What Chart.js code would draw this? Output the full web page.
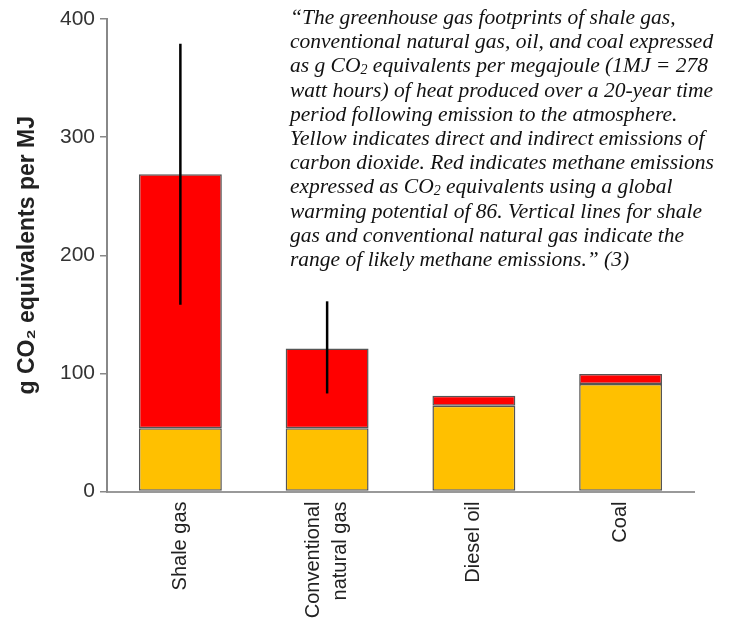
<!DOCTYPE html>
<html>
<head>
<meta charset="utf-8">
<script src="https://cdn.jsdelivr.net/npm/chart.js@4.4.1/dist/chart.umd.min.js"></script>
<style>
  body { margin: 0; background: #fff; }
  #wrap { position: relative; width: 730px; height: 626px; }
  #note {
    position: absolute; left: 290px; top: 5px;
    font-family: "Liberation Serif", "Times New Roman", serif;
    font-style: italic; font-size: 21.5px; line-height: 24.2px; color: #111;
    white-space: nowrap;
  }
  #note sub { font-size: 0.65em; vertical-align: -0.15em; line-height: 0; }
</style>
</head>
<body>
<div id="wrap">
  <canvas id="barChart"></canvas>
  <div id="note">“The greenhouse gas footprints of shale gas,<br>conventional natural gas, oil, and coal expressed<br>as g CO<sub>2</sub> equivalents per megajoule (1MJ = 278<br>watt hours) of heat produced over a 20-year time<br>period following emission to the atmosphere.<br>Yellow indicates direct and indirect emissions of<br>carbon dioxide. Red indicates methane emissions<br>expressed as CO<sub>2</sub> equivalents using a global<br>warming potential of 86. Vertical lines for shale<br>gas and conventional natural gas indicate the<br>range of likely methane emissions.” (3)</div>
</div>
<script>
// data
const fuels = ['Shale gas', ['Conventional', 'natural gas'], 'Diesel oil', 'Coal'];
const co2Direct = [53.5, 53.5, 72.5, 91];      // yellow
const methaneCO2eq = [215, 67.5, 8.5, 8.5];    // red
const rangeLow = [158, 83, null, null];
const rangeHigh = [379, 161, null, null];
const yTicks = [0, 100, 200, 300, 400];

// vertical range lines for the two gases
const rangeLines = {
    id: 'rangeLines',
    afterDatasetsDraw(chart) {
        const { ctx, scales: { x, y } } = chart;
        ctx.save();
        ctx.strokeStyle = '#000';
        ctx.lineWidth = 2.5;
        rangeLow.forEach((lo, i) => {
            if (lo == null) return;
            const px = x.getPixelForValue(i);
            ctx.beginPath();
            ctx.moveTo(px, y.getPixelForValue(lo));
            ctx.lineTo(px, y.getPixelForValue(rangeHigh[i]));
            ctx.stroke();
        });
        ctx.restore();
    }
};

// two line labels sit centred on the bar, one line labels get an empty first line
const LINE_H = 27;
function isMulti(i) { return Array.isArray(fuels[i]); }

var ctx = document.getElementById('barChart').getContext('2d');
var chart = new Chart(ctx, {
    type: 'bar',
    data: {
        labels: fuels,
        datasets: [{
            label: 'Carbon dioxide',
            data: co2Direct,
            backgroundColor: '#FFC000',
            borderColor: '#555',
            borderWidth: 1.5,
            borderSkipped: false
        }, {
            label: 'Methane',
            data: methaneCO2eq,
            backgroundColor: '#FF0000',
            borderColor: '#555',
            borderWidth: 1.5,
            borderSkipped: false
        }]
    },
    options: {
        responsive: true,
        maintainAspectRatio: false,
        animation: false,
        layout: { padding: { top: 19, right: 36, left: 0, bottom: 0 } },
        datasets: { bar: { categoryPercentage: 1, barPercentage: 0.565 } },
        plugins: { legend: { display: false }, tooltip: { enabled: false } },
        scales: {
            x: {
                stacked: true,
                grid: { display: false, drawTicks: false },
                border: { display: true, color: '#999', width: 2 },
                ticks: {
                    minRotation: 90, maxRotation: 90, padding: 10,
                    labelOffset: -LINE_H / 2,
                    color: '#222',
                    callback: (v, i) => isMulti(i) ? fuels[i] : ['', fuels[i]],
                    font: (c) => ({
                        family: 'Arial, "Liberation Sans"', size: 20,
                        lineHeight: (isMulti(c.index) ? LINE_H : LINE_H / 2) + 'px'
                    })
                },
                afterFit: (s) => { s.height = 134.5; }
            },
            y: {
                stacked: true,
                min: 0, max: 400,
                afterBuildTicks: (s) => { s.ticks = yTicks.map(v => ({ value: v })); },
                grid: { drawOnChartArea: false, tickLength: 7, color: '#888', lineWidth: 1.5 },
                border: { display: true, color: '#888', width: 2 },
                ticks: {
                    padding: 5, color: '#333',
                    font: { family: 'Arial, "Liberation Sans"', size: 21 }
                },
                title: {
                    display: true,
                    text: 'g CO₂ equivalents per MJ',
                    color: '#222',
                    padding: { top: 14, bottom: 0 },
                    font: { family: 'Arial, "Liberation Sans"', size: 23, weight: 'bold' }
                },
                afterFit: (s) => { s.width = 107; }
            }
        }
    },
    plugins: [rangeLines]
});
</script>
</body>
</html>
